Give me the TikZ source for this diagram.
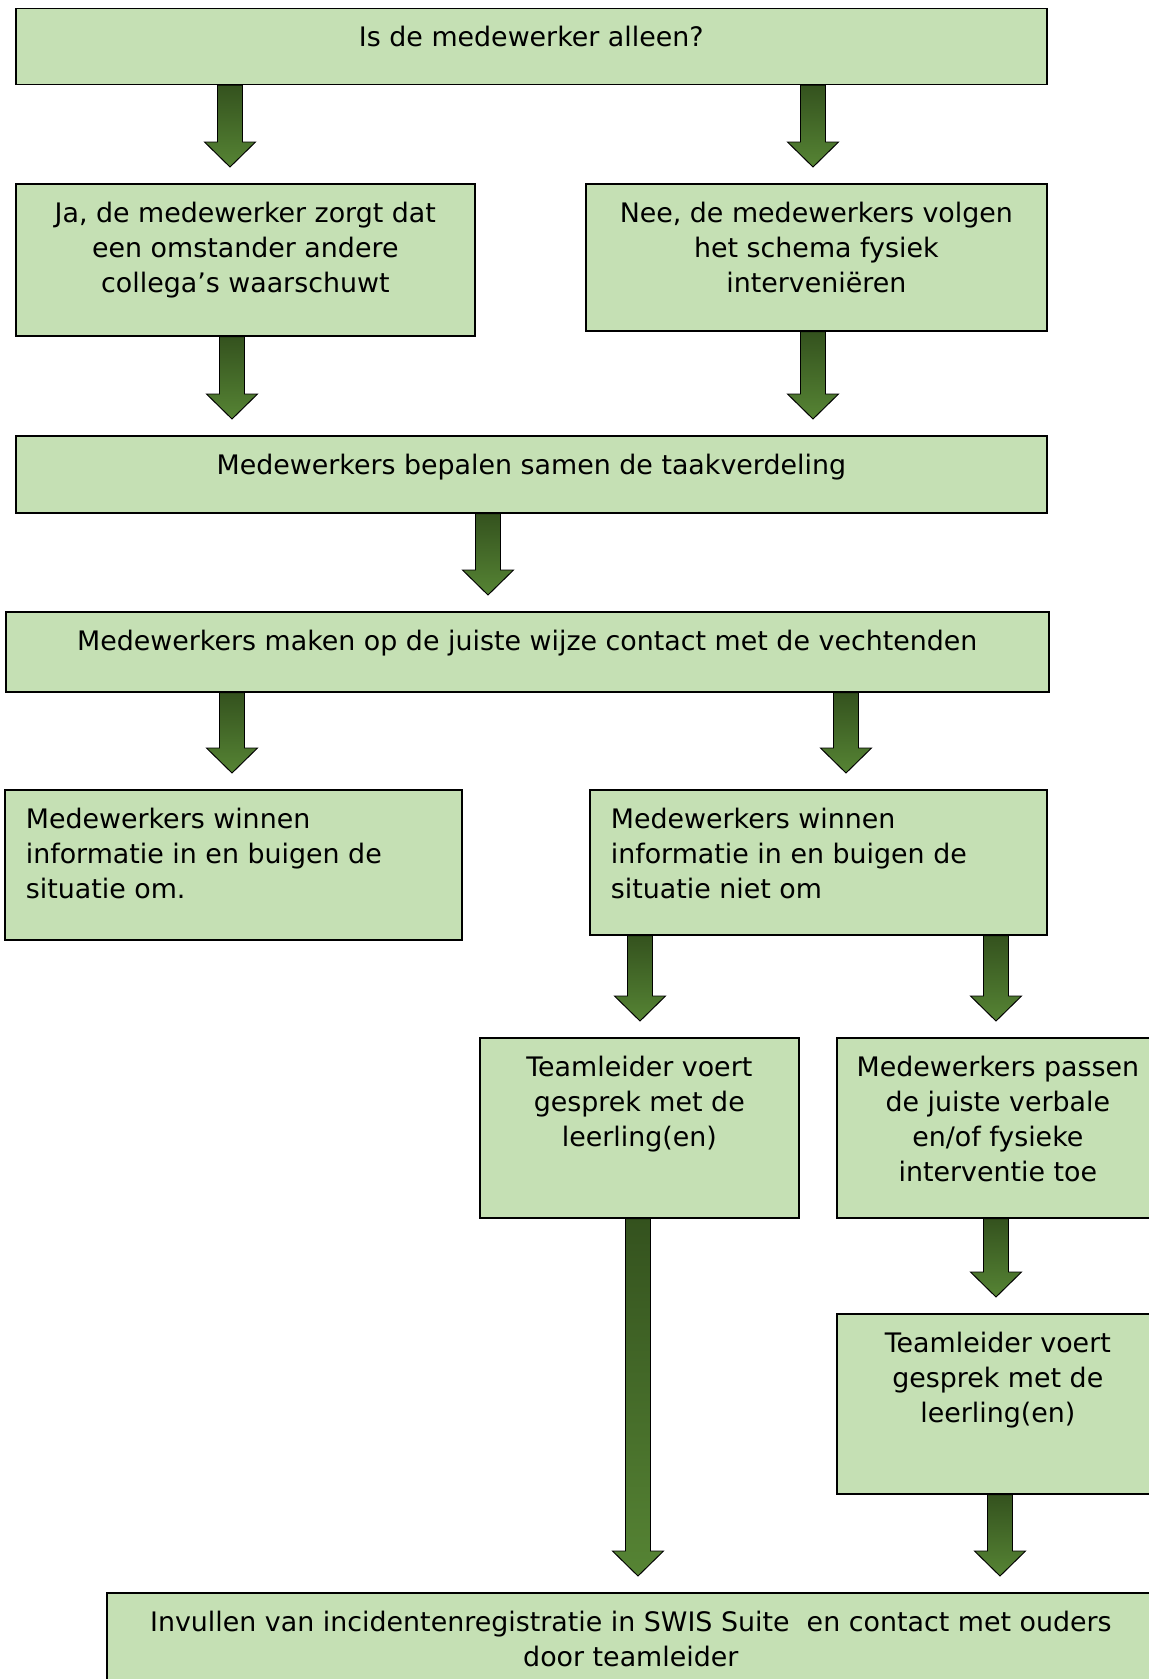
\documentclass[tikz,border=0pt]{standalone}
\usepackage{fontspec}
\setmainfont{DejaVu Sans}
\usepackage{tikz}
\usetikzlibrary{calc}
\definecolor{boxgreen}{RGB}{197, 224, 180}
\definecolor{arrowdark}{RGB}{52, 82, 30}
\definecolor{arrowlight}{RGB}{86, 132, 52}
\newdimen\pxunit
\pxunit=0.417pt
\tikzset{
  flowbox/.style={
    draw=black, line width=0.7pt, fill=boxgreen,
    inner sep=0pt, anchor=north west,
    font=\fontsize{11.2pt}{14.6pt}\selectfont
  },
  blockarrow/.style={
    draw=black, line width=0.4pt,
    top color=arrowdark, bottom color=arrowlight
  }
}
% box contents: width, height, text (px)
\newcommand{\midtext}[3]{\parbox[c][#2\pxunit][t]{#1\pxunit}{\vspace*{5.8pt}\centering\strut #3}}
\newcommand{\lefttext}[3]{\parbox[c][#2\pxunit][t]{#1\pxunit}{\vspace*{5.8pt}\raggedright\leftskip=21\pxunit\strut #3}}
% block arrow from node #1 down to node #2 at x = #3
\newcommand{\drawblockarrow}[3]{
  \coordinate (#1-#2-s) at ({#3,0} |- #1.south);
  \coordinate (#1-#2-t) at ($({#3,0} |- #2.north)+(0,-16)$);
  \draw[blockarrow] ($(#1-#2-s)+(-12.5,0)$) -- ($(#1-#2-t)+(-12.5,-25)$) -- ($(#1-#2-t)+(-25.5,-25)$) -- (#1-#2-t) -- ($(#1-#2-t)+(25.5,-25)$) -- ($(#1-#2-t)+(12.5,-25)$) -- ($(#1-#2-s)+(12.5,0)$) -- cycle;
}

\begin{document}
\begin{tikzpicture}[x=0.417pt, y=-0.417pt]
\useasboundingbox (0,0) rectangle (1149,1679);
\clip (0,0) rectangle (1149,1679);

% Boxes
\node[flowbox] (box_alleen) at (15,7.5) {\midtext{1031}{76}{Is de medewerker alleen?}};
\node[flowbox] (box_ja) at (15,183) {\midtext{459}{152}{Ja, de medewerker zorgt dat\\een omstander andere\\collega’s waarschuwt}};
\node[flowbox] (box_nee) at (585,183) {\midtext{461}{147}{Nee, de medewerkers volgen\\het schema fysiek\\interveniëren}};
\node[flowbox] (box_taak) at (15,435) {\midtext{1031}{77}{Medewerkers bepalen samen de taakverdeling}};
\node[flowbox] (box_contact) at (5,611) {\midtext{1043}{80}{Medewerkers maken op de juiste wijze contact met de vechtenden}};
\node[flowbox] (box_om) at (4,789) {\lefttext{457}{150}{Medewerkers winnen\\informatie in en buigen de\\situatie om.}};
\node[flowbox] (box_nietom) at (589,789) {\lefttext{457}{145}{Medewerkers winnen\\informatie in en buigen de\\situatie niet om}};
\node[flowbox] (box_gesprek) at (479,1037) {\midtext{319}{180}{Teamleider voert\\gesprek met de\\leerling(en)}};
\node[flowbox] (box_passen) at (836,1037) {\midtext{322}{180}{Medewerkers passen\\de juiste verbale\\en/of fysieke\\interventie toe}};
\node[flowbox] (box_gesprek2) at (836,1313) {\midtext{322}{180}{Teamleider voert\\gesprek met de\\leerling(en)}};
\node[flowbox] (box_invullen) at (106,1592) {\midtext{1048}{110}{Invullen van incidentenregistratie in SWIS Suite\ \ en contact met ouders\\door teamleider}};

% Arrows
\drawblockarrow{box_alleen}{box_ja}{230}
\drawblockarrow{box_alleen}{box_nee}{813}
\drawblockarrow{box_ja}{box_taak}{232}
\drawblockarrow{box_nee}{box_taak}{813}
\drawblockarrow{box_taak}{box_contact}{488}
\drawblockarrow{box_contact}{box_om}{232}
\drawblockarrow{box_contact}{box_nietom}{846}
\drawblockarrow{box_nietom}{box_gesprek}{640}
\drawblockarrow{box_nietom}{box_passen}{996}
\drawblockarrow{box_gesprek}{box_invullen}{638}
\drawblockarrow{box_passen}{box_gesprek2}{996}
\drawblockarrow{box_gesprek2}{box_invullen}{1000}

\end{tikzpicture}
\end{document}
